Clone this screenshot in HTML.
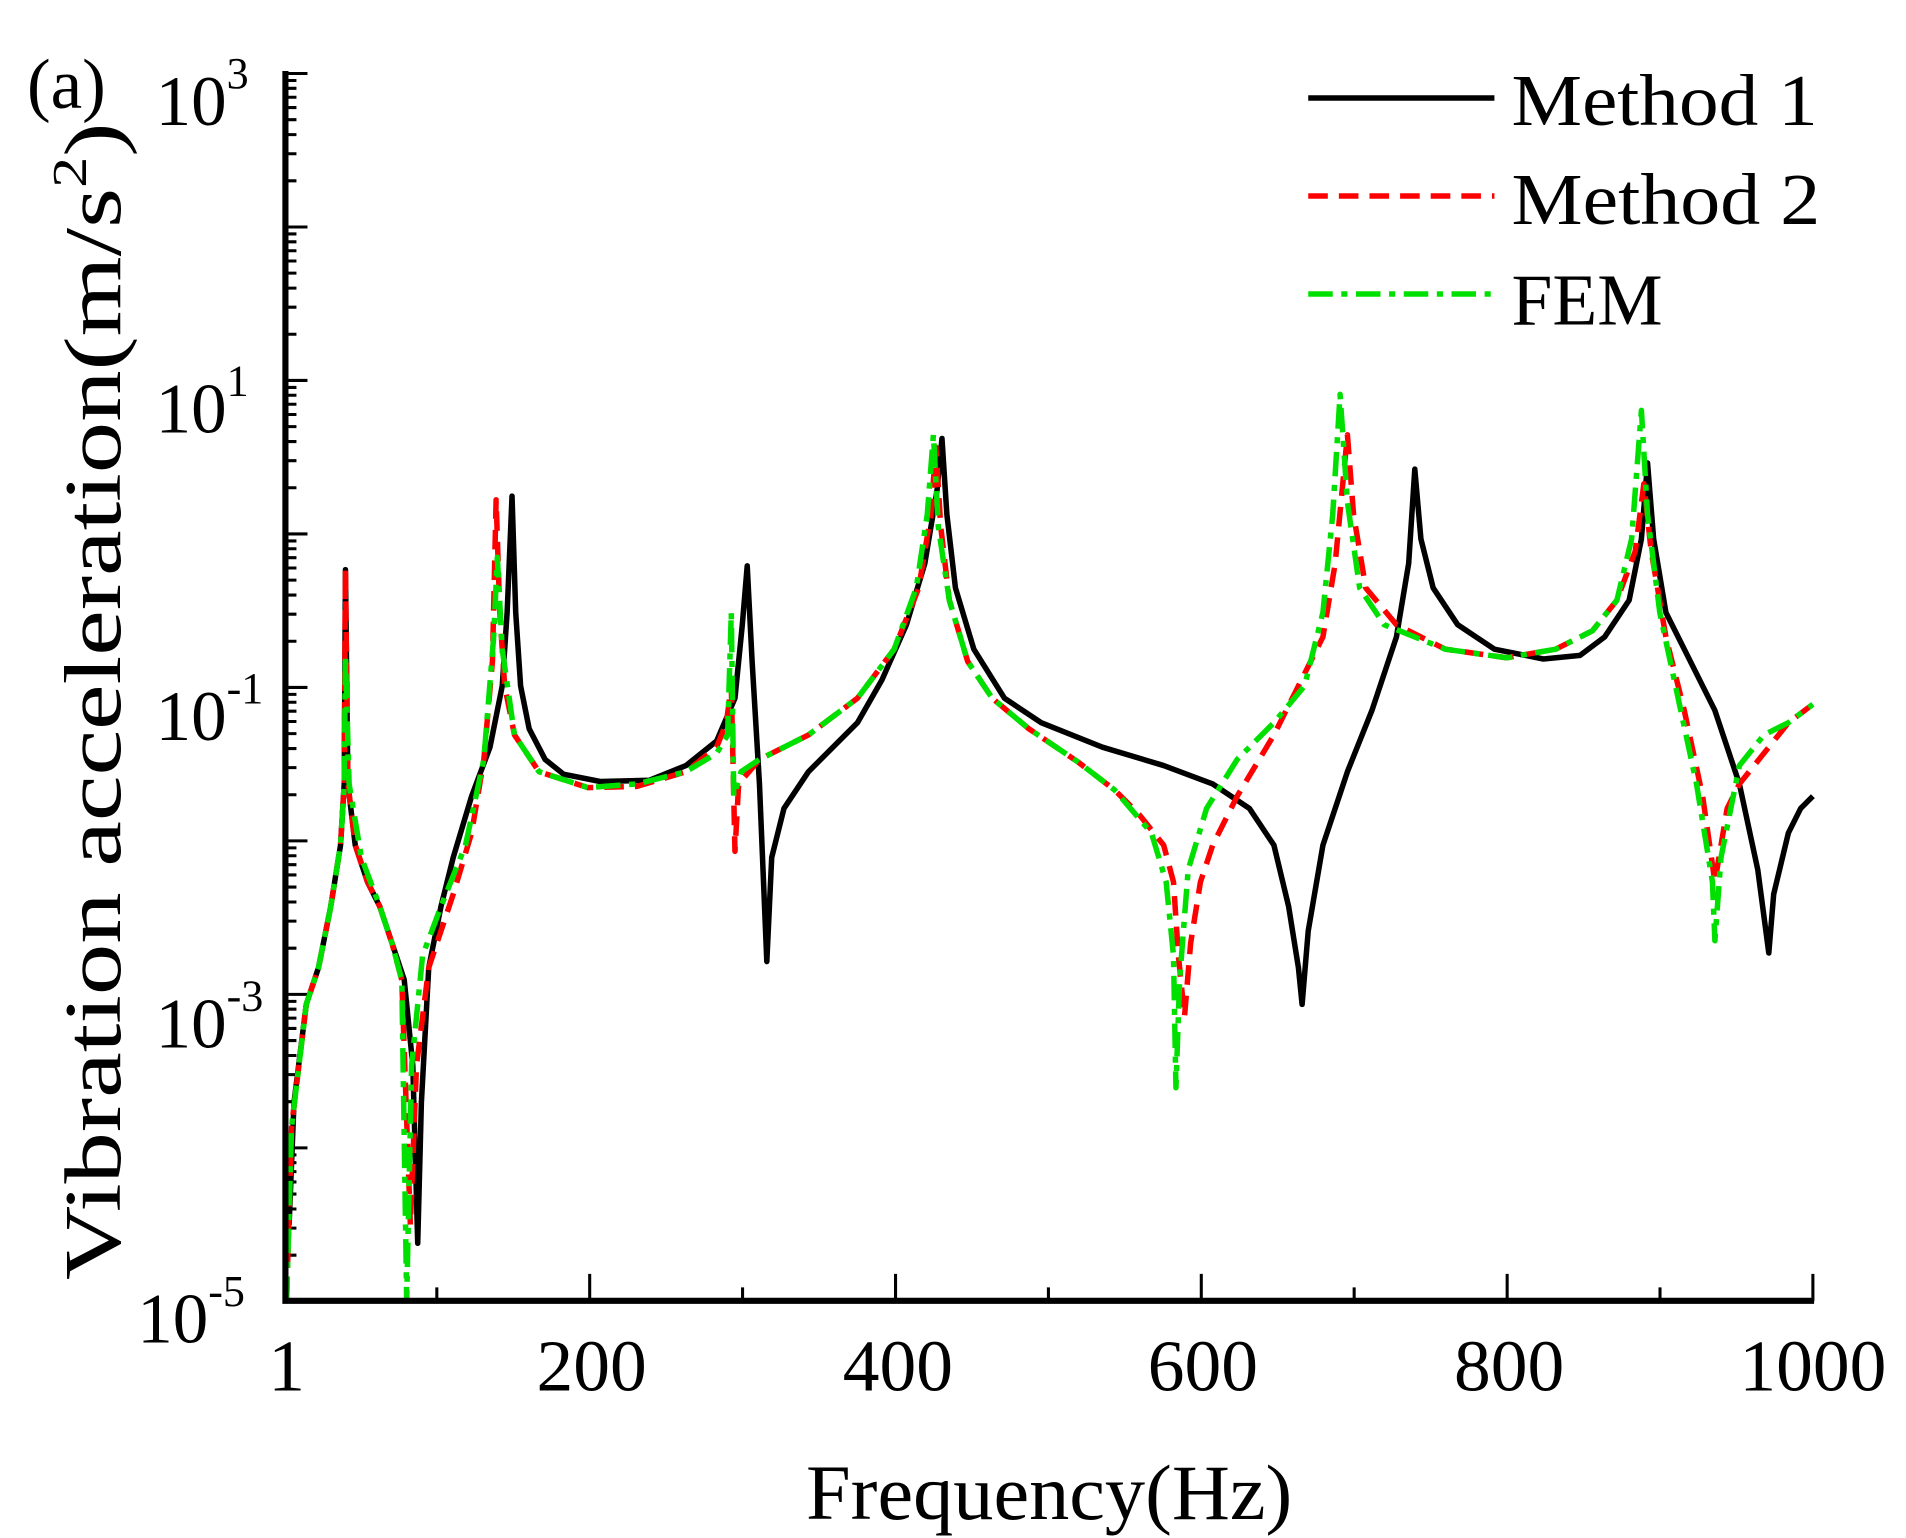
<!DOCTYPE html>
<html><head><meta charset="utf-8"><style>html,body{margin:0;padding:0;background:#fff}svg{display:block}</style></head>
<body>
<svg width="1906" height="1538" viewBox="0 0 1556 1255.6" xmlns="http://www.w3.org/2000/svg" font-family="Liberation Serif, serif">
<rect width="1556" height="1256" fill="#fff"/>
<g stroke="#000" stroke-width="2.5" fill="none">
<path d="M233,60h18M233,185.3h18M233,310.6h18M233,435.9h18M233,561.2h18M233,686.5h18M233,811.8h18M233,937.1h18"/>
<path d="M233,1024.7h9M233,1002.6h9M233,987h9M233,974.8h9M233,964.9h9M233,956.5h9M233,949.2h9M233,942.8h9
M233,899.4h9M233,877.3h9M233,861.7h9M233,849.5h9M233,839.6h9M233,831.2h9M233,823.9h9M233,817.5h9
M233,774.1h9M233,752h9M233,736.4h9M233,724.2h9M233,714.3h9M233,705.9h9M233,698.6h9M233,692.2h9
M233,648.8h9M233,626.7h9M233,611.1h9M233,598.9h9M233,589h9M233,580.6h9M233,573.3h9M233,566.9h9
M233,523.5h9M233,501.4h9M233,485.8h9M233,473.6h9M233,463.7h9M233,455.3h9M233,448h9M233,441.6h9
M233,398.2h9M233,376.1h9M233,360.5h9M233,348.3h9M233,338.4h9M233,330h9M233,322.7h9M233,316.3h9
M233,272.9h9M233,250.8h9M233,235.2h9M233,223h9M233,213.1h9M233,204.7h9M233,197.4h9M233,191h9
M233,147.6h9M233,125.5h9M233,109.9h9M233,97.7h9M233,87.8h9M233,79.4h9M233,72.1h9M233,65.7h9"/>
<path d="M356.6,1062v-11M481.4,1062v-22M606.2,1062v-11M731.1,1062v-22M855.9,1062v-11M980.7,1062v-22M1105.5,1062v-11M1230.4,1062v-22M1355.2,1062v-11M1480,1062v-22"/>
</g>
<g fill="none" stroke-linejoin="round">
<polyline stroke="#000" stroke-width="4.5" points="236,1000 240,900 250,820 260,790 270,740 278,690 281,640 282,465 284,640 290,690 300,720 310,740 320,770 330,800 337,870 341,1015 344,900 350,790 360,740 370,700 385,650 400,610 410,560 414,500 418,405 421,500 425,560 432,595 445,620 460,632 490,638 530,637 560,625 585,605 600,570 606,510 610,462 614,540 620,640 626,785 630,700 640,660 660,630 680,610 700,590 720,555 740,510 755,460 765,400 769,358 773,420 780,480 795,530 820,570 850,590 900,610 950,625 990,640 1020,660 1040,690 1052,740 1060,790 1063,820 1068,760 1080,690 1100,630 1120,580 1140,520 1150,460 1155,383 1160,440 1170,480 1190,510 1220,530 1260,538 1290,535 1310,520 1330,490 1340,440 1345,378 1350,440 1360,500 1380,540 1400,580 1420,640 1435,710 1444,778 1448,730 1460,680 1470,660 1480,650"/>
<polyline stroke="#ff0000" stroke-width="4.5" stroke-dasharray="16,9" points="234,1060 238,920 250,820 260,790 270,740 278,690 281,640 282,465 284,640 290,690 300,720 310,740 320,770 328,800 335,1000 340,870 350,790 370,730 385,680 395,620 402,540 405,408 408,500 412,560 420,600 440,630 480,643 520,642 560,630 585,610 593,590 597,560 600,695 603,640 620,620 660,600 700,570 730,530 750,480 760,420 764,365 768,430 775,490 790,540 810,570 840,595 880,622 910,645 930,665 950,690 958,720 962,780 967,830 972,770 980,720 990,690 1010,650 1040,600 1060,560 1080,520 1090,460 1100,355 1105,420 1115,480 1140,510 1180,530 1230,537 1270,530 1300,515 1320,490 1335,450 1342,395 1348,450 1360,520 1375,580 1390,650 1400,720 1410,660 1420,640 1440,615 1460,590 1480,575"/>
<polyline stroke="#00e000" stroke-width="4.5" stroke-dasharray="20,7,5,7" points="234,1062 238,920 250,820 260,790 270,740 278,690 281,640 282,535 285,640 295,700 310,740 320,770 328,800 332,1062 336,870 345,780 360,740 380,690 395,620 403,520 406,455 410,530 420,600 440,630 480,643 520,640 560,630 585,615 594,600 597,500 599,650 605,630 620,620 660,600 700,570 730,530 748,480 757,420 762,355 766,430 775,490 790,540 810,570 840,595 880,622 910,645 940,680 952,720 958,780 960,888 963,800 970,710 985,660 1010,620 1040,590 1065,560 1080,500 1088,420 1094,322 1100,410 1110,480 1130,510 1180,530 1230,537 1270,530 1300,515 1320,490 1332,440 1340,335 1345,420 1355,500 1370,570 1385,640 1398,720 1400,768 1405,700 1420,625 1440,600 1460,590 1480,575"/>
</g>
<path d="M233,58 V1062 H1481" fill="none" stroke="#000" stroke-width="5"/>
<g font-size="60" text-anchor="middle" fill="#000">
<text x="234" y="1135">1</text><text x="483" y="1135">200</text><text x="733" y="1135">400</text>
<text x="982" y="1135">600</text><text x="1232" y="1135">800</text><text x="1480" y="1135">1000</text>
</g>
<g font-size="58" fill="#000">
<text x="127" y="102">10<tspan font-size="36" dy="-30">3</tspan></text>
<text x="127" y="353">10<tspan font-size="36" dy="-30">1</tspan></text>
<text x="127" y="604">10<tspan font-size="36" dy="-30">-1</tspan></text>
<text x="127" y="855">10<tspan font-size="36" dy="-30">-3</tspan></text>
<text x="112" y="1096">10<tspan font-size="36" dy="-30">-5</tspan></text>
<text x="22" y="88">(a)</text>
</g>
<text font-size="66" transform="translate(98,1045) rotate(-90)" textLength="945" lengthAdjust="spacingAndGlyphs" fill="#000">Vibration acceleration(m/s<tspan font-size="40" dy="-28">2</tspan><tspan dy="28">)</tspan></text>
<text x="658" y="1240" font-size="64" textLength="397" lengthAdjust="spacingAndGlyphs" fill="#000">Frequency(Hz)</text>
<line x1="1068" y1="80" x2="1220" y2="80" stroke="#000" stroke-width="4.5"/>
<line x1="1068" y1="160" x2="1220" y2="160" stroke="#ff0000" stroke-width="4.5" stroke-dasharray="16,9"/>
<line x1="1068" y1="240" x2="1220" y2="240" stroke="#00e000" stroke-width="4.5" stroke-dasharray="20,7,5,7"/>
<g font-size="60" fill="#000">
<text x="1234" y="102" textLength="250" lengthAdjust="spacingAndGlyphs">Method 1</text><text x="1234" y="183" textLength="252" lengthAdjust="spacingAndGlyphs">Method 2</text><text x="1234" y="265">FEM</text>
</g>
</svg>
</body></html>
